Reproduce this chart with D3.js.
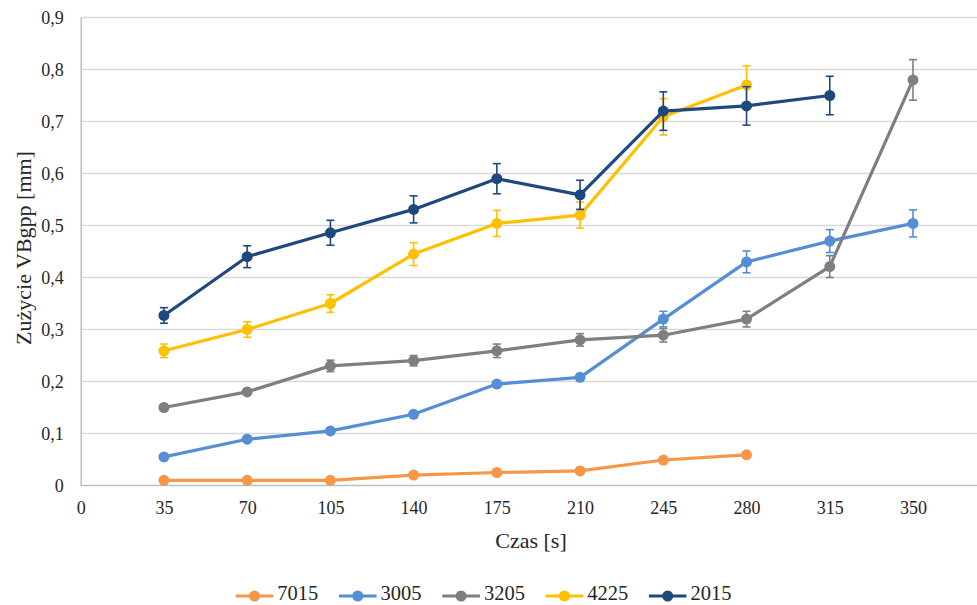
<!DOCTYPE html>
<html>
<head>
<meta charset="utf-8">
<script src="https://cdn.jsdelivr.net/npm/d3@7"></script>
<style>
  html, body { margin: 0; padding: 0; background: #ffffff; }
  svg { display: block; }
</style>
</head>
<body>
<svg id="chart" width="977" height="605"></svg>
<script>
// ---- data ----
const times = [35, 70, 105, 140, 175, 210, 245, 280, 315, 350];
const xTicks = [0, 35, 70, 105, 140, 175, 210, 245, 280, 315, 350];
const yTicks = [0, 0.1, 0.2, 0.3, 0.4, 0.5, 0.6, 0.7, 0.8, 0.9];
const seriesNames = ["7015", "3005", "3205", "4225", "2015"];
const seriesColors = ["#F79646", "#558ED5", "#7F7F7F", "#FFC000", "#1F497D"];

const v7015 = [0.01, 0.01, 0.01, 0.02, 0.025, 0.028, 0.049, 0.059];
const e7015 = [0, 0, 0, 0, 0, 0, 0, 0];
const v3005 = [0.055, 0.089, 0.105, 0.137, 0.195, 0.208, 0.32, 0.43, 0.47, 0.504];
const e3005 = [0, 0, 0, 0, 0, 0.006, 0.015, 0.021, 0.022, 0.026];
const v3205 = [0.15, 0.18, 0.23, 0.24, 0.259, 0.28, 0.289, 0.32, 0.421, 0.78];
const e3205 = [0, 0, 0.011, 0.01, 0.013, 0.012, 0.013, 0.015, 0.021, 0.039];
const v4225 = [0.259, 0.30, 0.35, 0.445, 0.504, 0.52, 0.709, 0.77];
const e4225 = [0.013, 0.015, 0.017, 0.022, 0.025, 0.025, 0.035, 0.037];
const v2015 = [0.327, 0.44, 0.486, 0.531, 0.59, 0.559, 0.72, 0.73, 0.75];
const e2015 = [0.015, 0.021, 0.024, 0.026, 0.029, 0.028, 0.037, 0.037, 0.037];

const seriesValues = [v7015, v3005, v3205, v4225, v2015];
const seriesErrors = [e7015, e3005, e3205, e4225, e2015];

// ---- layout ----
const FONT = "'Liberation Serif', 'Times New Roman', Times, 'DejaVu Serif', serif";
const TEXT = "#262626";
const svg = d3.select("#chart");
const W = 977;
const x = d3.scaleLinear().domain([0, 350]).range([80.7, 913]);
const y = d3.scaleLinear().domain([0, 0.9]).range([485.5, 17.5]);
const fmt = v => d3.format(".1f")(v).replace(".", ",");

// gridlines
svg.append("g").selectAll("line").data(yTicks.filter(d => d > 0)).join("line")
  .attr("x1", x(0)).attr("x2", W)
  .attr("y1", d => y(d)).attr("y2", d => y(d))
  .attr("stroke", "#D9D9D9").attr("stroke-width", 1.5);

// y axis
const yAxis = d3.axisLeft(y).tickValues(yTicks).tickSize(0).tickPadding(17)
  .tickFormat(d => d === 0 ? "0" : fmt(d));
const gy = svg.append("g").attr("transform", `translate(${x(0)},0)`).call(yAxis);
gy.attr("font-family", null).attr("font-size", null);
gy.select(".domain").attr("stroke", "#BFBFBF").attr("stroke-width", 1.5);
gy.selectAll("text").style("font-family", FONT).style("font-size", "18px").attr("fill", TEXT);

// x axis
const xAxis = d3.axisBottom(x).tickValues(xTicks).tickSize(0).tickPadding(16)
  .tickFormat(d3.format("d"));
const gx = svg.append("g").attr("transform", `translate(0,${y(0)})`).call(xAxis);
gx.attr("font-family", null).attr("font-size", null);
gx.select(".domain").remove();
gx.append("line").attr("x1", x(0)).attr("x2", W).attr("y1", 0).attr("y2", 0)
  .attr("stroke", "#BFBFBF").attr("stroke-width", 1.5);
gx.selectAll("text").style("font-family", FONT).style("font-size", "18px").attr("fill", TEXT);

// axis titles
svg.append("text").attr("x", 531).attr("y", 548).attr("text-anchor", "middle")
  .style("font-family", FONT).style("font-size", "22px").attr("fill", TEXT).text("Czas [s]");
svg.append("text").attr("transform", "translate(30.5,248) rotate(-90)")
  .attr("text-anchor", "middle").style("font-family", FONT).style("font-size", "22px")
  .attr("fill", TEXT).text("Zużycie VBgpp [mm]");

// series
const line = d3.line().x(d => x(d.t)).y(d => y(d.v));
seriesNames.forEach((name, i) => {
  const pts = seriesValues[i].map((v, j) => ({ t: times[j], v: v, e: seriesErrors[i][j] }));
  const color = seriesColors[i];
  const g = svg.append("g");
  g.append("path").datum(pts).attr("d", line).attr("fill", "none")
    .attr("stroke", color).attr("stroke-width", 3.2).attr("stroke-linejoin", "round");
  g.selectAll("circle").data(pts).join("circle")
    .attr("cx", d => x(d.t)).attr("cy", d => y(d.v)).attr("r", 5.5).attr("fill", color);
  const eb = g.selectAll("g.err").data(pts.filter(d => d.e > 0)).join("g").attr("class", "err")
    .attr("stroke", color).attr("stroke-width", 1.6);
  eb.append("line").attr("x1", d => x(d.t)).attr("x2", d => x(d.t))
    .attr("y1", d => y(d.v - d.e)).attr("y2", d => y(d.v + d.e));
  eb.append("line").attr("x1", d => x(d.t) - 4).attr("x2", d => x(d.t) + 4)
    .attr("y1", d => y(d.v + d.e)).attr("y2", d => y(d.v + d.e));
  eb.append("line").attr("x1", d => x(d.t) - 4).attr("x2", d => x(d.t) + 4)
    .attr("y1", d => y(d.v - d.e)).attr("y2", d => y(d.v - d.e));
});

// legend
const legend = svg.append("g").attr("transform", "translate(235.7,596)");
seriesNames.forEach((name, i) => {
  const g = legend.append("g").attr("transform", `translate(${i * 103.3},0)`);
  g.append("line").attr("x1", 0).attr("x2", 37.6).attr("y1", 0).attr("y2", 0)
    .attr("stroke", seriesColors[i]).attr("stroke-width", 3.2);
  g.append("circle").attr("cx", 18.8).attr("cy", 0).attr("r", 5.5).attr("fill", seriesColors[i]);
  g.append("text").attr("x", 41.6).attr("y", 4).style("font-family", FONT)
    .style("font-size", "20.5px").attr("fill", TEXT).text(name);
});
</script>
</body>
</html>
